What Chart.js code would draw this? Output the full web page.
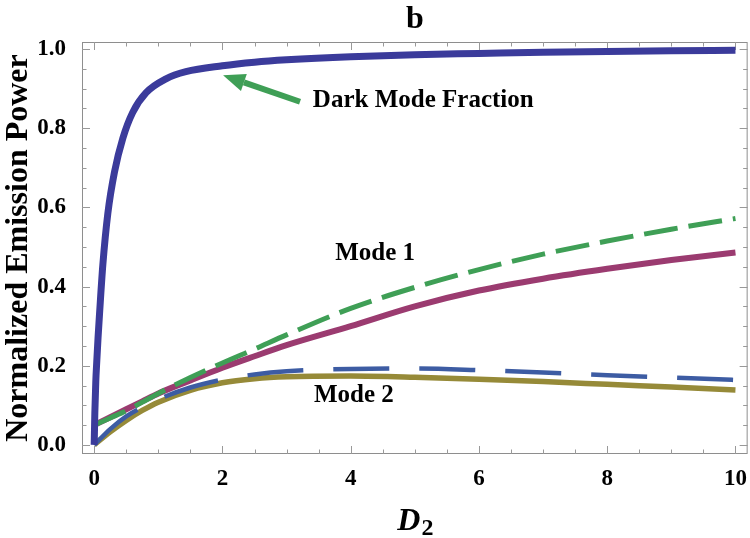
<!DOCTYPE html>
<html>
<head>
<meta charset="utf-8">
<script src="https://cdn.jsdelivr.net/npm/chart.js@4.4.1/dist/chart.umd.min.js"></script>
<style>
  html, body { margin: 0; padding: 0; background: #fff; }
  #wrap { width: 750px; height: 538px; }
</style>
</head>
<body>
<div id="wrap"><canvas id="myChart" width="750" height="538"></canvas></div>
<script>
// values
const darkX = [0, 0.005, 0.01, 0.025, 0.04, 0.06, 0.083, 0.135, 0.213, 0.317, 0.447, 0.6, 0.81, 1.12, 1.43, 2, 2.5, 3, 4, 5, 6, 7, 8, 9, 10];
const darkY = [0, 0.04, 0.08, 0.16, 0.21, 0.27, 0.33, 0.455, 0.585, 0.69, 0.775, 0.84, 0.89, 0.925, 0.943, 0.958, 0.967, 0.973, 0.981, 0.986, 0.989, 0.992, 0.994, 0.996, 0.997];

const modeX = [0, 0.25, 0.5, 0.75, 1, 1.5, 2, 2.5, 3, 4, 5, 6, 7, 8, 9, 10];
const mode1Dashed = [0.05, 0.068, 0.086, 0.108, 0.13, 0.17, 0.207, 0.242, 0.278, 0.345, 0.398, 0.443, 0.482, 0.515, 0.545, 0.572];
const mode1Solid = [0.05, 0.07, 0.09, 0.11, 0.13, 0.163, 0.195, 0.224, 0.252, 0.30, 0.35, 0.39, 0.42, 0.445, 0.467, 0.486];
const mode2Dashed = [0, 0.04, 0.072, 0.095, 0.115, 0.145, 0.165, 0.178, 0.186, 0.192, 0.193, 0.189, 0.183, 0.176, 0.17, 0.164];
const mode2Solid = [0, 0.033, 0.062, 0.087, 0.108, 0.138, 0.157, 0.167, 0.172, 0.174, 0.171, 0.166, 0.16, 0.153, 0.146, 0.139];

const xTicks = [0, 2, 4, 6, 8, 10];
const yTicks = [0, 0.2, 0.4, 0.6, 0.8, 1.0];

const SERIF = '"Liberation Serif", "Times New Roman", serif';

// annotation anchors in data units
const labels = [
    { text: 'Dark Mode Fraction', x: 3.41, y: 0.854, align: 'left' },
    { text: 'Mode 1', x: 4.38, y: 0.467, align: 'center' },
    { text: 'Mode 2', x: 4.05, y: 0.108, align: 'center' }
];
const arrow = { fromX: 3.21, fromY: 0.867, toX: 2.01, toY: 0.934 };

function pts(xs, ys) {
    return xs.map((x, i) => ({ x: x, y: ys[i] }));
}

const frameTicks = {
    id: 'frameTicks',
    beforeDatasetsDraw(chart) {
        const { ctx, chartArea: a, scales: { x, y } } = chart;
        ctx.save();
        ctx.strokeStyle = '#8e8e8e';
        ctx.lineWidth = 1;
        ctx.strokeRect(a.left + 0.5, a.top + 0.5, a.right - a.left - 1, a.bottom - a.top - 1);

        ctx.strokeStyle = '#999';
        ctx.beginPath();
        for (let i = 0; i <= 20; i++) {
            const v = i * 0.5;
            const len = i % 4 === 0 ? 8 : 4.5;
            const px = Math.round(x.getPixelForValue(v)) + 0.5;
            ctx.moveTo(px, a.bottom);
            ctx.lineTo(px, a.bottom - len);
            ctx.moveTo(px, a.top);
            ctx.lineTo(px, a.top + len);
        }
        for (let i = 0; i <= 20; i++) {
            const v = i * 0.05;
            const len = i % 4 === 0 ? 8 : 4.5;
            const py = Math.round(y.getPixelForValue(v)) + 0.5;
            ctx.moveTo(a.left, py);
            ctx.lineTo(a.left + len, py);
            ctx.moveTo(a.right, py);
            ctx.lineTo(a.right - len, py);
        }
        ctx.stroke();
        ctx.restore();
    },
    afterDraw(chart) {
        const { ctx, chartArea: a, scales: { x, y } } = chart;
        ctx.save();
        ctx.fillStyle = '#000';

        // panel letter
        ctx.font = 'bold 32px ' + SERIF;
        ctx.textAlign = 'center';
        ctx.textBaseline = 'alphabetic';
        ctx.fillText('b', (a.left + a.right) / 2, 28);

        // x axis title D_2
        ctx.font = 'italic bold 32px ' + SERIF;
        const wD = ctx.measureText('D').width;
        ctx.font = 'bold 24px ' + SERIF;
        const w2 = ctx.measureText('2').width;
        const startX = (a.left + a.right) / 2 - (wD + w2) / 2;
        ctx.textAlign = 'left';
        ctx.font = 'italic bold 32px ' + SERIF;
        ctx.fillText('D', startX, chart.height - 8);
        ctx.font = 'bold 24px ' + SERIF;
        ctx.fillText('2', startX + wD + 1, chart.height - 3);

        // curve labels
        ctx.font = 'bold 25px ' + SERIF;
        labels.forEach(l => {
            ctx.textAlign = l.align;
            ctx.fillText(l.text, x.getPixelForValue(l.x), y.getPixelForValue(l.y));
        });

        // arrow
        const x0 = x.getPixelForValue(arrow.fromX), y0 = y.getPixelForValue(arrow.fromY);
        const x1 = x.getPixelForValue(arrow.toX), y1 = y.getPixelForValue(arrow.toY);
        const ang = Math.atan2(y1 - y0, x1 - x0);
        const headLen = 22, headHalf = 9;
        const bx = x1 - headLen * Math.cos(ang), by = y1 - headLen * Math.sin(ang);
        ctx.strokeStyle = '#3f9f56';
        ctx.fillStyle = '#3f9f56';
        ctx.lineWidth = 6;
        ctx.beginPath();
        ctx.moveTo(x0, y0);
        ctx.lineTo(bx, by);
        ctx.stroke();
        ctx.beginPath();
        ctx.moveTo(x1, y1);
        ctx.lineTo(bx + headHalf * Math.sin(ang), by - headHalf * Math.cos(ang));
        ctx.lineTo(bx - headHalf * Math.sin(ang), by + headHalf * Math.cos(ang));
        ctx.closePath();
        ctx.fill();
        ctx.restore();
    }
};

const ctx = document.getElementById('myChart').getContext('2d');

new Chart(ctx, {
    type: 'line',
    data: {
        datasets: [
            {
                label: 'Dark Mode Fraction',
                data: pts(darkX, darkY),
                borderColor: '#3b3b9b',
                borderWidth: 7
            },
            {
                label: 'Mode 1 (dashed)',
                data: pts(modeX, mode1Dashed),
                borderColor: '#3f9f56',
                borderWidth: 5,
                borderDash: [34, 11]
            },
            {
                label: 'Mode 2 (dashed)',
                data: pts(modeX, mode2Dashed),
                borderColor: '#3d5ca3',
                borderWidth: 4.5,
                borderDash: [56, 30]
            },
            {
                label: 'Mode 1',
                data: pts(modeX, mode1Solid),
                borderColor: '#9b3b70',
                borderWidth: 6
            },
            {
                label: 'Mode 2',
                data: pts(modeX, mode2Solid),
                borderColor: '#968a38',
                borderWidth: 5.5
            }
        ]
    },
    options: {
        responsive: false,
        animation: false,
        devicePixelRatio: 1,
        layout: { padding: { top: 42, right: 2, left: 0, bottom: 0 } },
        elements: {
            point: { radius: 0, hoverRadius: 0 },
            line: { cubicInterpolationMode: 'monotone', borderCapStyle: 'butt', fill: false }
        },
        scales: {
            x: {
                type: 'linear',
                min: -0.19,
                max: 10.19,
                afterBuildTicks: s => { s.ticks = xTicks.map(v => ({ value: v })); },
                afterFit: s => { s.height = 84; },
                grid: { display: false },
                border: { display: false },
                ticks: {
                    color: '#000',
                    padding: 3,
                    maxRotation: 0,
                    autoSkip: false,
                    font: { family: SERIF, size: 23, weight: 'bold' },
                    callback: v => String(v)
                }
            },
            y: {
                type: 'linear',
                min: -0.023,
                max: 1.018,
                afterBuildTicks: s => { s.ticks = yTicks.map(v => ({ value: v })); },
                afterFit: s => { s.width = 82; },
                grid: { display: false },
                border: { display: false },
                ticks: {
                    color: '#000',
                    padding: 8,
                    autoSkip: false,
                    font: { family: SERIF, size: 23, weight: 'bold' },
                    callback: v => v.toFixed(1)
                },
                title: {
                    display: true,
                    text: 'Normalized Emission Power',
                    color: '#000',
                    font: { family: SERIF, size: 32, weight: 'bold' },
                    padding: { top: 0, bottom: 0 }
                }
            }
        },
        plugins: {
            legend: { display: false },
            tooltip: { enabled: false }
        }
    },
    plugins: [frameTicks]
});
</script>
</body>
</html>
